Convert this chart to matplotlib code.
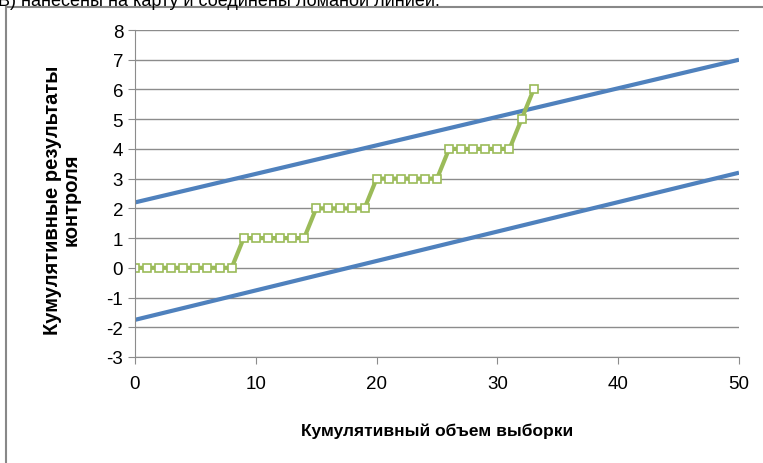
import matplotlib.pyplot as plt
from matplotlib.patches import Rectangle

plt.rcParams['font.family'] = ['Liberation Sans', 'DejaVu Sans']
plt.rcParams['axes.unicode_minus'] = False

# control limits (upper / lower), read at x = 0, 10, ..., 50
limit_x = [0, 10, 20, 30, 40, 50]
upper = [2.2, 3.16, 4.12, 5.08, 6.04, 7.0]
lower = [-1.75, -0.76, 0.23, 1.22, 2.21, 3.2]

# cumulative control results
sample_x = list(range(0, 34))
results = [0, 0, 0, 0, 0, 0, 0, 0, 0,
           1, 1, 1, 1, 1, 1,
           2, 2, 2, 2, 2,
           3, 3, 3, 3, 3, 3,
           4, 4, 4, 4, 4, 4,
           5, 6]

blue = '#4F81BD'
green = '#9BBB59'
grid = '#8C8C8C'

fig = plt.figure(figsize=(7.63, 4.64), dpi=100)
ax = fig.add_axes([135 / 763, 1 - 358 / 464, (739 - 135) / 763, (358 - 31) / 464])

ax.plot(limit_x, upper, color=blue, lw=3, solid_capstyle='butt')
ax.plot(limit_x, lower, color=blue, lw=3, solid_capstyle='butt')
ax.plot(sample_x, results, color=green, lw=3, marker='s', ms=6,
        mfc='white', mec=green, mew=1.2)

ax.set_xlim(0, 50)
ax.set_ylim(-3, 8)
ax.set_xticks([0, 10, 20, 30, 40, 50])
ax.set_yticks(range(-3, 9))
ax.yaxis.grid(True, color=grid, lw=1)
ax.set_axisbelow(True)
for s in ['top', 'right']:
    ax.spines[s].set_visible(False)
for s in ['left', 'bottom']:
    ax.spines[s].set_color(grid)
ax.tick_params(axis='both', colors=grid, labelcolor='black', labelsize=13.5,
               length=5, direction='out')
ax.tick_params(axis='x', pad=8)

ax.set_xlabel('Кумулятивный объем выборки', fontsize=12.5, fontweight='bold', labelpad=22)
fig.text(62 / 763, 1 - 200 / 464, 'Кумулятивные результаты\nконтроля', rotation=90,
         ha='center', va='center', fontsize=14.5, fontweight='bold', linespacing=1.0)

# frame around the chart and cropped caption above it
fig.patches.append(Rectangle((6 / 763, -0.1), 1.2, 1.1 - 8 / 464, transform=fig.transFigure,
                             fill=False, edgecolor='#888888', lw=1.5, clip_on=False))
fig.text(-2 / 763, 1 - 6 / 464, 'В) нанесены на карту и соединены ломаной линией.',
         fontsize=13, va='baseline', ha='left')

fig.savefig('out.png', dpi=100)
